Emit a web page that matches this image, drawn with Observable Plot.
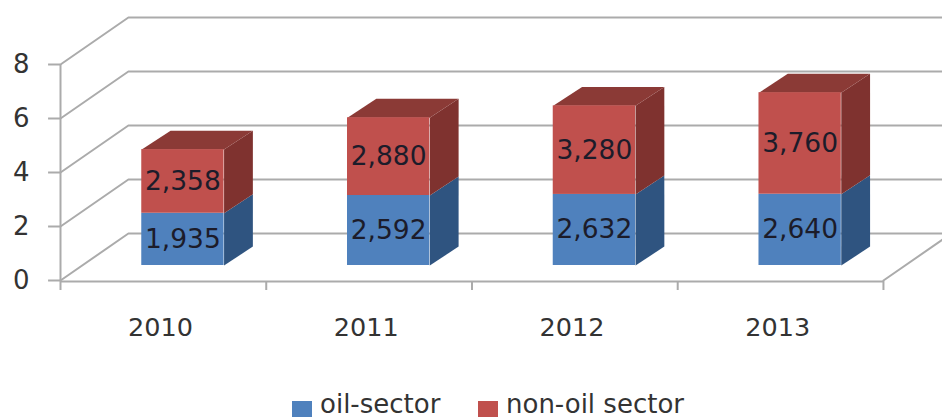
<!DOCTYPE html>
<html>
<head>
<meta charset="utf-8">
<script src="https://cdn.jsdelivr.net/npm/d3@7"></script>
<script src="https://cdn.jsdelivr.net/npm/@observablehq/plot@0.6"></script>
<style>
html,body{margin:0;padding:0;background:#fff;overflow:hidden;width:942px;height:419px}
svg{display:block}
#legend{position:relative;height:24px;font:26px "DejaVu Sans",sans-serif;color:#333}
#legend span{position:absolute;white-space:nowrap;line-height:24px;top:-3px}
#legend i{position:absolute;width:20px;height:16px;top:6px}
</style>
</head>
<body>
<div id="chart"></div>
<div id="legend">
<i style="left:292px;background:#4f81bd"></i><span style="left:320px">oil-sector</span>
<i style="left:478px;background:#c0504d"></i><span style="left:506px">non-oil sector</span>
</div>
<script>
const years = ["2010", "2011", "2012", "2013"];
const oilSector = [1.935, 2.592, 2.632, 2.640];
const nonOilSector = [2.358, 2.880, 3.280, 3.760];
const oilLabels = ["1,935", "2,592", "2,632", "2,640"];
const nonOilLabels = ["2,358", "2,880", "3,280", "3,760"];
const yTicks = [0, 2, 4, 6, 8];

// Projection of the pseudo-3D box, expressed in data units
const wallDx = 0.33, wallDy = 1.74, xEnd = 4.287;
const barLeft = 0.395, barW = 0.4, barBase = 0.556, barDx = 0.14, barDy = 0.7;

const poly = (id, pts) => pts.map(([x, y]) => ({id, x, y}));
const oilSide = [], nonOilSide = [], topFace = [];
const front = [], labels = [];
years.forEach((yr, i) => {
  const l = i + barLeft, r = l + barW;
  const y0 = barBase, y1 = y0 + oilSector[i], y2 = y1 + nonOilSector[i];
  front.push({x1: l, x2: r, y1: y0, y2: y1, fill: "#4f81bd"});
  front.push({x1: l, x2: r, y1: y1, y2: y2, fill: "#c0504d"});
  labels.push({x: (l + r) / 2, y: (y0 + y1) / 2, t: oilLabels[i]});
  labels.push({x: (l + r) / 2, y: (y1 + y2) / 2, t: nonOilLabels[i]});
  oilSide.push(...poly(i, [[r, y0], [r + barDx, y0 + barDy], [r + barDx, y1 + barDy], [r, y1]]));
  nonOilSide.push(...poly(i, [[r, y1], [r + barDx, y1 + barDy], [r + barDx, y2 + barDy], [r, y2]]));
  topFace.push(...poly(i, [[l, y2], [r, y2], [r + barDx, y2 + barDy], [l + barDx, y2 + barDy]]));
});

const wallLines = yTicks.flatMap(v => poly(v, [[0, v], [wallDx, v + wallDy], [xEnd, v + wallDy]]));
const floorEdge = poly("floor", [[4, 0], [xEnd, (xEnd - 4) / wallDx * wallDy]]);

const gridColor = "#ababab";
const chart = Plot.plot({
  width: 942,
  height: 395,
  marginLeft: 60,
  marginRight: 0,
  marginTop: 64,
  marginBottom: 115,
  style: {background: "#fff", fontFamily: "'DejaVu Sans',sans-serif"},
  x: {domain: [0, xEnd]},
  y: {domain: [0, 8]},
  marks: [
    Plot.line(wallLines, {x: "x", y: "y", z: "id", stroke: gridColor, strokeWidth: 2}),
    Plot.line(floorEdge, {x: "x", y: "y", z: "id", stroke: gridColor, strokeWidth: 2}),
    Plot.ruleX([0], {y1: 0, y2: 8, stroke: gridColor, strokeWidth: 2}),
    Plot.ruleY([0], {x1: 0, x2: 4, stroke: gridColor, strokeWidth: 2, dy: 1}),
    Plot.ruleY(yTicks, {x1: -0.058, x2: 0, stroke: gridColor, strokeWidth: 2}),
    Plot.axisY({ticks: yTicks, tickSize: 0, tickPadding: 31, fontSize: 26, color: "#333", label: null}),
    Plot.axisX({ticks: [0, 1, 2, 3, 4], tickSize: 9, tickFormat: () => "", stroke: gridColor, strokeWidth: 2, label: null, dy: 1}),
    Plot.axisX({ticks: years.map((_, i) => i + 0.486), tickSize: 0, tickPadding: 37, fontSize: 25.5, color: "#333", tickFormat: (_, i) => years[i], label: null}),
    Plot.line(oilSide, {x: "x", y: "y", z: "id", fill: "#2f5480", stroke: "none"}),
    Plot.line(nonOilSide, {x: "x", y: "y", z: "id", fill: "#7f322f", stroke: "none"}),
    Plot.line(topFace, {x: "x", y: "y", z: "id", fill: "#8b3a36", stroke: "none"}),
    Plot.rect(front, {x1: "x1", x2: "x2", y1: "y1", y2: "y2", fill: d => d.fill, inset: 0}),
    Plot.text(labels, {x: "x", y: "y", text: "t", fontSize: 26.5, fill: "#1c1c2a"})
  ]
});
document.getElementById("chart").append(chart);
</script>
</body>
</html>
